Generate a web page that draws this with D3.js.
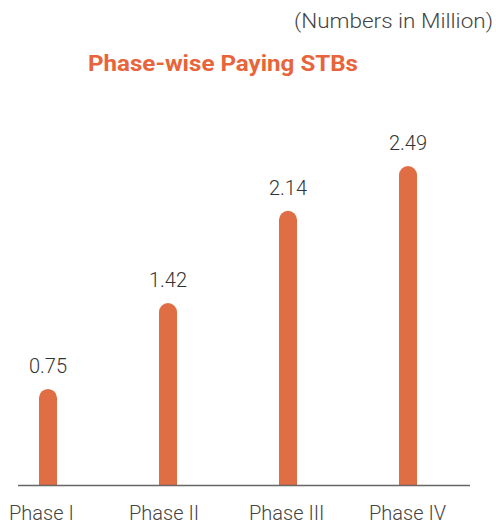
<!DOCTYPE html>
<html>
<head>
<meta charset="utf-8">
<script src="https://cdn.jsdelivr.net/npm/d3@7"></script>
<style>
  body { margin: 0; background: #fff; }
  svg { display: block; font-family: Roboto, "Open Sans", sans-serif; }
</style>
</head>
<body>
<svg class="chart" width="496" height="527"></svg>
<script>
const phases = ["Phase I", "Phase II", "Phase III", "Phase IV"];
const payingStbs = [0.75, 1.42, 2.14, 2.49];
const valueLabels = ["0.75", "1.42", "2.14", "2.49"];

const BAR_COLOR = "#e06e45";
const TITLE_COLOR = "#e8643a";
const BAR_WIDTH = 18;
const BASELINE = 485;

const svg = d3.select("svg.chart");

const x = d3.scalePoint()
    .domain(phases)
    .range([48, 408]);

const y = d3.scaleLinear()
    .domain([0, 2.49])
    .range([BASELINE, 166]);

svg.append("text")
    .attr("x", 493)
    .attr("y", 28)
    .attr("text-anchor", "end")
    .attr("font-size", 20)
    .attr("font-weight", 300)
    .attr("fill", "#444")
    .attr("textLength", 199)
    .attr("lengthAdjust", "spacingAndGlyphs")
    .text("(Numbers in Million)");

svg.append("text")
    .attr("x", 88)
    .attr("y", 71)
    .attr("font-size", 22)
    .attr("font-weight", 700)
    .attr("fill", TITLE_COLOR)
    .attr("textLength", 270)
    .attr("lengthAdjust", "spacingAndGlyphs")
    .text("Phase-wise Paying STBs");

// bars with rounded tops
const barPath = d => {
    const cx = x(d.phase), top = y(d.value), r = BAR_WIDTH / 2;
    return `M${cx - r},${BASELINE} V${top + r} A${r},${r} 0 0 1 ${cx + r},${top + r} V${BASELINE} Z`;
};

const data = phases.map((p, i) => ({phase: p, value: payingStbs[i], label: valueLabels[i]}));

svg.selectAll("path.bar")
    .data(data)
    .enter().append("path")
    .attr("class", "bar")
    .attr("d", barPath)
    .attr("fill", BAR_COLOR);

svg.selectAll("text.value")
    .data(data)
    .enter().append("text")
    .attr("class", "value")
    .attr("x", d => x(d.phase))
    .attr("y", d => y(d.value) - 16)
    .attr("text-anchor", "middle")
    .attr("font-size", 20)
    .attr("font-weight", 300)
    .attr("fill", "#333")
    .text(d => d.label);

svg.append("line")
    .attr("x1", 18)
    .attr("x2", 470)
    .attr("y1", BASELINE + 0.5)
    .attr("y2", BASELINE + 0.5)
    .attr("stroke", "#666")
    .attr("stroke-width", 1.5);

svg.selectAll("text.phase")
    .data(phases)
    .enter().append("text")
    .attr("class", "phase")
    .attr("x", d => x(d) - 39)
    .attr("y", 520)
    .attr("font-size", 20)
    .attr("font-weight", 300)
    .attr("fill", "#444")
    .text(d => d);
</script>
</body>
</html>
